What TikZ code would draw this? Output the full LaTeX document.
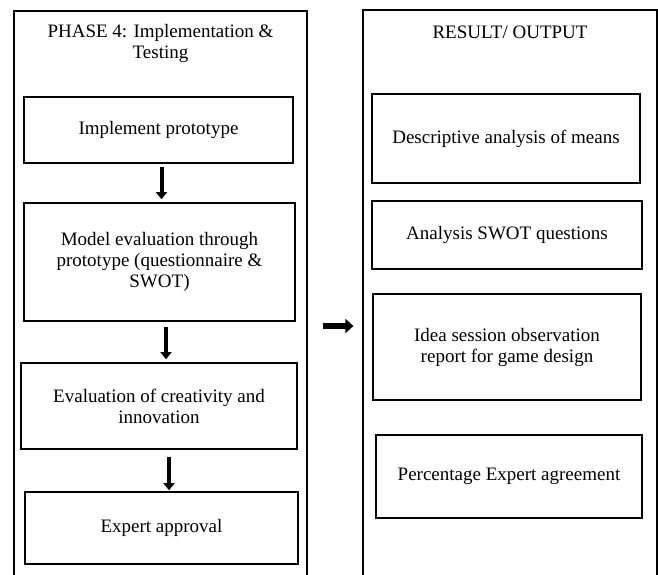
\documentclass[tikz,border=0pt]{standalone}
\usepackage{fontspec}
\setmainfont{Liberation Serif}
\usetikzlibrary{arrows.meta,positioning}

\tikzset{
  phasebox/.style={draw, line width=1.2pt, minimum width=293pt, inner sep=0pt},
  stepbox/.style={draw, line width=1.6pt, align=center, inner sep=0pt},
  downarrow/.style={line width=4pt, -{Triangle[length=7pt,width=11pt]}},
  bigarrow/.style={line width=6pt, -{Triangle[length=8pt,width=14pt]}}
}

\begin{document}
\begin{tikzpicture}[x=1pt, y=-1pt, font=\fontsize{19}{21}\selectfont]
    \useasboundingbox (0,0) rectangle (658,574);
    \clip (0,0) rectangle (658,574);
    % Phase 4 column (cut at the bottom)
    \node[phasebox, minimum height=630pt] (lphase) at (160.5,326) {};
    \node (ltitle) at (160.5,43.5) [align=center] {PHASE 4: Implementation \&\\Testing};
    \node[stepbox, minimum width=269pt, minimum height=66pt]  (impl)   at (158.5,130) {Implement prototype};
    \node[stepbox, minimum width=271pt, minimum height=118pt] (model)  at (159.5,262)
      {Model evaluation through\\prototype (questionnaire \&\\SWOT)};
    \node[stepbox, minimum width=276pt, minimum height=86pt]  (creat)  at (159,406)
      {Evaluation of creativity and\\innovation};
    \node[stepbox, minimum width=273pt, minimum height=72pt]  (expert) at (161.5,528) {Expert approval};
    % Result column (cut at the bottom)
    \node[phasebox, minimum width=294pt, minimum height=632pt] (rphase) at (510,326) {};
    \node (rtitle) at (510,32) {RESULT/ OUTPUT};
    \node[stepbox, minimum width=268pt, minimum height=89pt]  (means) at (506,138.5) {Descriptive analysis of means};
    \node[stepbox, minimum width=270pt, minimum height=68pt]  (swot)  at (507,235) {Analysis SWOT questions};
    \node[stepbox, minimum width=268pt, minimum height=106pt] (idea)  at (507,347)
      {Idea session observation\\report for game design};
    \node[stepbox, minimum width=266pt, minimum height=83pt]  (agree) at (509,476.5) {Percentage Expert agreement};
    % Arrows
    \draw[downarrow, shorten <=3pt, shorten >=3pt] ([xshift=3pt]impl.south) -- ([xshift=3pt]impl.south |- model.north);
    \draw[downarrow, shorten <=5pt, shorten >=3pt] ([xshift=6.5pt]model.south) -- ([xshift=6.5pt]model.south |- creat.north);
    \draw[downarrow, shorten <=7pt, shorten >=1pt] ([xshift=10pt]creat.south) -- ([xshift=10pt]creat.south |- expert.north);
    \draw[bigarrow, shorten <=15pt, shorten >=9pt] (lphase.east) -- (rphase.west);
\end{tikzpicture}
\end{document}
